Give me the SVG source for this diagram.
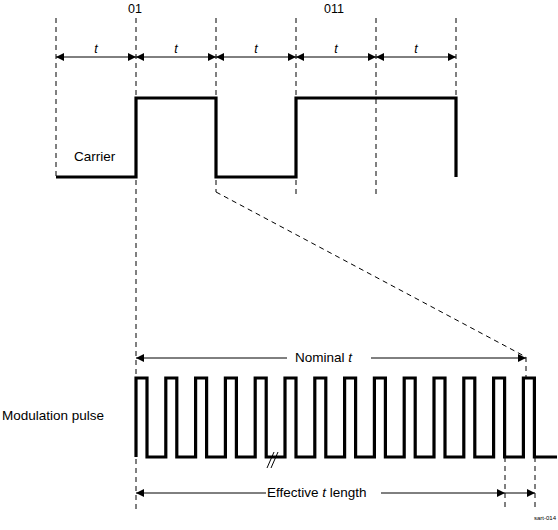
<svg xmlns="http://www.w3.org/2000/svg" width="558" height="530" viewBox="0 0 558 530">
<style>
.dash{stroke:#000;stroke-width:1;stroke-dasharray:5,4;fill:none}
.wave{stroke:#000;stroke-width:3.2;fill:none;stroke-linejoin:miter}
.dim{stroke:#000;stroke-width:1;fill:none}
text{font-family:"Liberation Sans",Arial,sans-serif;font-size:13.5px;fill:#000}
text.sm{font-size:12.5px}
.it{font-style:italic}
text.tag{font-size:6px}
</style>
<defs>
<marker id="ah" viewBox="0 0 8 8" refX="8" refY="4" markerWidth="8" markerHeight="8" markerUnits="userSpaceOnUse" orient="auto-start-reverse">
<path d="M0,0 L8,4 L0,8 z" fill="#000"/>
</marker>
</defs>
<rect width="558" height="530" fill="#fff"/>
<g id="guides">
<line class="dash" x1="56" y1="18" x2="56" y2="177"/>
<line class="dash" x1="136" y1="18" x2="136" y2="510"/>
<line class="dash" x1="216" y1="18" x2="216" y2="192"/>
<line class="dash" x1="296" y1="18" x2="296" y2="195"/>
<line class="dash" x1="376" y1="18" x2="376" y2="195"/>
<line class="dash" x1="456" y1="18" x2="456" y2="98"/>
<line class="dash" x1="216" y1="192" x2="526" y2="357"/>
<line class="dash" x1="526" y1="357" x2="526" y2="378"/>
<line class="dash" x1="505" y1="457" x2="505" y2="510"/>
<line class="dash" x1="535" y1="457" x2="535" y2="510"/>
</g>
<g id="carrier">
<path class="wave" d="M56,177 H136 V98 H216 V177 H296 V98 H456 V177"/>
<text x="74" y="161">Carrier</text>
</g>
<g id="bit-labels">
<text class="sm" x="135" y="13" text-anchor="middle">01</text>
<text class="sm" x="334" y="13" text-anchor="middle">011</text>
</g>
<g id="connectors">
<line class="dim" x1="56" y1="57" x2="136" y2="57" marker-start="url(#ah)" marker-end="url(#ah)"/>
<line class="dim" x1="136" y1="57" x2="216" y2="57" marker-start="url(#ah)" marker-end="url(#ah)"/>
<line class="dim" x1="216" y1="57" x2="296" y2="57" marker-start="url(#ah)" marker-end="url(#ah)"/>
<line class="dim" x1="296" y1="57" x2="376" y2="57" marker-start="url(#ah)" marker-end="url(#ah)"/>
<line class="dim" x1="376" y1="57" x2="456" y2="57" marker-start="url(#ah)" marker-end="url(#ah)"/>
<line class="dim" x1="136" y1="358" x2="287" y2="358" marker-start="url(#ah)"/>
<line class="dim" x1="371" y1="358" x2="526" y2="358" marker-end="url(#ah)"/>
<line class="dim" x1="136" y1="493" x2="266" y2="493" marker-start="url(#ah)"/>
<line class="dim" x1="381" y1="493" x2="505" y2="493" marker-end="url(#ah)"/>
<line class="dim" x1="505" y1="493" x2="535" y2="493" marker-end="url(#ah)"/>
</g>
<g id="t-labels">
<text class="sm it" x="96" y="53" text-anchor="middle">t</text>
<text class="sm it" x="176" y="53" text-anchor="middle">t</text>
<text class="sm it" x="256" y="53" text-anchor="middle">t</text>
<text class="sm it" x="336" y="53" text-anchor="middle">t</text>
<text class="sm it" x="416" y="53" text-anchor="middle">t</text>
</g>
<g id="modulation">
<path class="wave" d="M136,457 V378 H147 V457 H165.8 V378 H176.8 V457 H195.6 V378 H206.6 V457 H225.4 V378 H236.4 V457 H255.2 V378 H266.2 V457 H285 V378 H296 V457 H314.8 V378 H325.8 V457 H344.6 V378 H355.6 V457 H374.4 V378 H385.4 V457 H404.2 V378 H415.2 V457 H434 V378 H445 V457 H463.8 V378 H474.8 V457 H493.6 V378 H504.6 V457 H523.4 V378 H534.4 V457 H557"/>
<line class="dim" x1="267" y1="468" x2="274" y2="452"/>
<line class="dim" x1="271" y1="468" x2="278" y2="452"/>
<text x="2" y="420">Modulation pulse</text>
</g>
<g id="measure-labels">
<text x="295" y="362">Nominal <tspan class="it">t</tspan></text>
<text x="267" y="497">Effective <tspan class="it">t</tspan> length</text>
<text class="tag" x="556" y="520" text-anchor="end">sart-014</text>
</g>
</svg>
